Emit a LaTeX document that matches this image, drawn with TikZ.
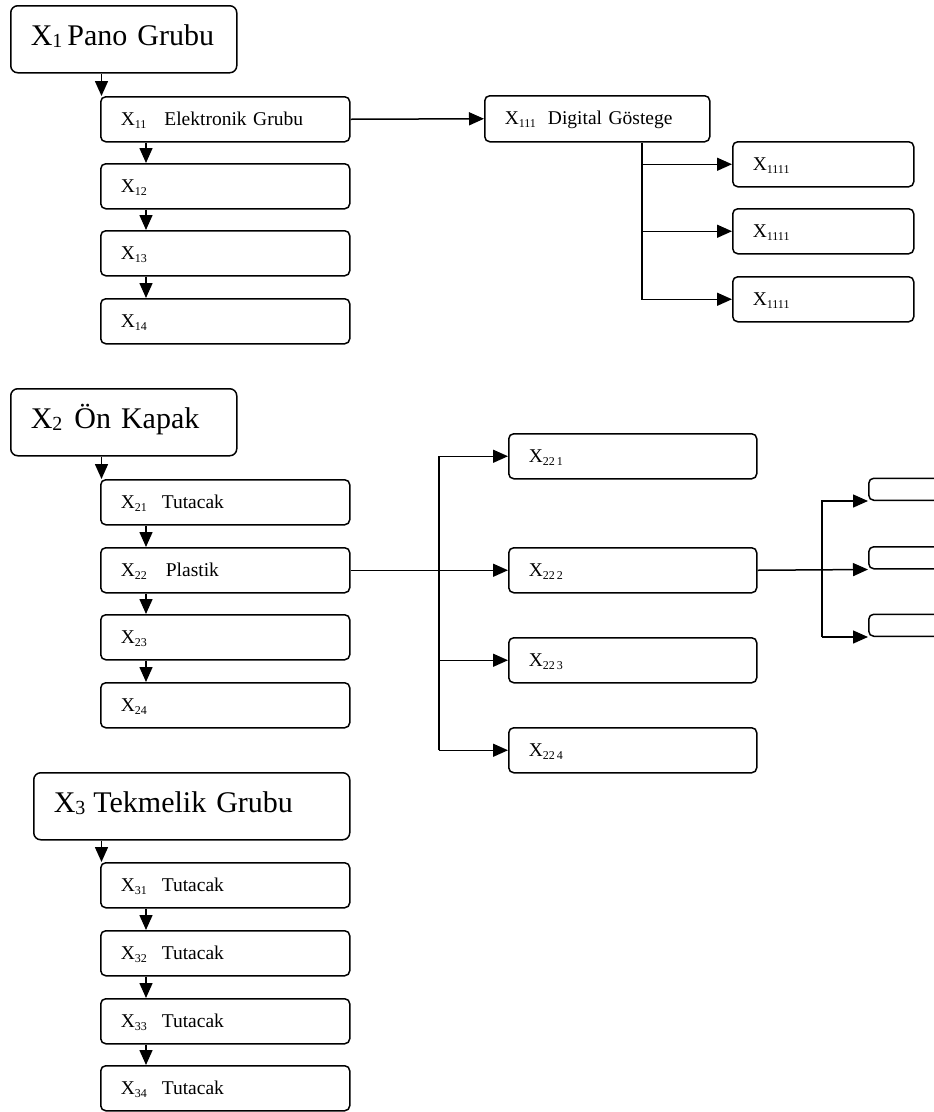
\documentclass[tikz,border=0pt]{standalone}
\usepackage{fontspec}
\setmainfont{Liberation Serif}
\usetikzlibrary{arrows.meta,calc}

% lowered index digits for the large and small labels
\newcommand\bsub[1]{\raisebox{-2.5pt}{\fontsize{20}{20}\selectfont #1}}
\newcommand\ssub[1]{\raisebox{-3pt}{\fontsize{12}{12}\selectfont #1}}

\tikzset{
  bx/.style={draw, line width=1.5pt, rounded corners=5pt, anchor=north west,
             inner xsep=20pt, inner ysep=0pt, align=left},
  small/.style={bx, font=\fontsize{19.5}{20}\selectfont, text height=13pt, text depth=1pt,
             minimum height=45pt, minimum width=249pt, text width=209pt},
  big/.style={bx, rounded corners=7pt, font=\fontsize{30}{32}\selectfont, text height=18pt,
             text depth=6pt, minimum height=67pt, minimum width=226pt, text width=186pt},
  arr/.style={line width=1.5pt, -{Triangle[length=15pt,width=13pt]}}
}

\begin{document}
\begin{tikzpicture}[x=1pt,y=-1pt]
\clip (0,0) rectangle (934,1112);
\fill[white] (0,0) rectangle (934,1112);

% ---- group 1: Pano Grubu
\node[big] (p1) at (10,5) {\mbox{X\bsub{1}\hspace{5pt}Pano Grubu}};
\node[small] (c11) at (100,96)  {\mbox{X\ssub{11}\hspace{18pt}Elektronik Grubu}};
\node[small] (c12) at (100,163) {X\ssub{12}};
\node[small] (c13) at (100,230) {X\ssub{13}};
\node[small] (c14) at (100,298) {X\ssub{14}};
\node[small, minimum width=225pt, text width=185pt, minimum height=46pt] (d111) at (484,95)
  {\mbox{X\ssub{111}\hspace{12pt}Digital Göstege}};
\node[small, minimum width=181pt, text width=141pt] (e1) at (732,141) {X\ssub{1111}};
\node[small, minimum width=181pt, text width=141pt] (e2) at (732,208) {X\ssub{1111}};
\node[small, minimum width=181pt, text width=141pt] (e3) at (732,276) {X\ssub{1111}};

% ---- group 2: Ön Kapak
\node[big] (p2) at (10,388) {\mbox{X\bsub{2}\hspace{12pt}Ön Kapak}};
\node[small] (c21) at (100,479) {\mbox{X\ssub{21}\hspace{15pt}Tutacak}};
\node[small] (c22) at (100,547) {\mbox{X\ssub{22}\hspace{19pt}Plastik}};
\node[small] (c23) at (100,614) {X\ssub{23}};
\node[small] (c24) at (100,682) {X\ssub{24}};
\node[small, minimum width=248pt, text width=208pt] (f1) at (508,433) {X\ssub{22\kern2pt 1}};
\node[small, minimum width=248pt, text width=208pt] (f2) at (508,547) {X\ssub{22\kern2pt 2}};
\node[small, minimum width=248pt, text width=208pt] (f3) at (508,637) {X\ssub{22\kern2pt 3}};
\node[small, minimum width=248pt, text width=208pt] (f4) at (508,727) {X\ssub{22\kern2pt 4}};
\node[small, anchor=south west, minimum width=120pt, text width=80pt, minimum height=22pt] (g1) at (868,501) {};
\node[small, anchor=south west, minimum width=120pt, text width=80pt, minimum height=22pt] (g2) at (868,569.5) {};
\node[small, anchor=south west, minimum width=120pt, text width=80pt, minimum height=22pt] (g3) at (868,637) {};

% ---- group 3: Tekmelik Grubu
\node[big, minimum width=316pt, text width=276pt] (p3) at (33,772) {\mbox{X\bsub{3}\hspace{8pt}Tekmelik Grubu}};
\node[small] (c31) at (100,862)  {\mbox{X\ssub{31}\hspace{15pt}Tutacak}};
\node[small] (c32) at (100,930)  {\mbox{X\ssub{32}\hspace{15pt}Tutacak}};
\node[small] (c33) at (100,998)  {\mbox{X\ssub{33}\hspace{15pt}Tutacak}};
\node[small] (c34) at (100,1065) {\mbox{X\ssub{34}\hspace{15pt}Tutacak}};

% parent box to first child
\foreach \p/\c in {p1/c11, p2/c21, p3/c31} {
  \coordinate (a\c) at ($(\c.north west)+(1.5,0)$);
  \draw[arr] (a\c |- \p.south) -- (a\c);
}
% chain of children
\foreach \i/\j in {11/12,12/13,13/14,21/22,22/23,23/24,31/32,32/33,33/34}
  \draw[arr] ($(c\i.south west)+(46,0)$) -- ($(c\j.north west)+(46,0)$);

% Elektronik Grubu -> Digital Göstege -> three outputs
\draw[arr] (c11.east) -- (d111.west);
\coordinate (k1) at ($(d111.south west)+(158,0)$);
\draw[arr] (k1) |- (e3.west);
\draw[arr] (k1 |- e1.west) -- (e1.west);
\draw[arr] (k1 |- e2.west) -- (e2.west);

% Plastik -> four parts
\coordinate (k2) at (439,0);
\draw[arr] (c22.east) -- (f2.west);
\draw[arr] (k2 |- f4.west) |- (f1.west);
\draw[arr] (k2 |- f3.west) -- (f3.west);
\draw[arr] (k2 |- f4.west) -- (f4.west);

% X22 2 -> three boxes at the right edge
\coordinate (k3) at (822,0);
\draw[arr] (f2.east) -- (g2.south west);
\draw[arr] (k3 |- g3.south west) |- (g1.south west);
\draw[arr] (k3 |- g3.south west) -- (g3.south west);
\end{tikzpicture}
\end{document}
